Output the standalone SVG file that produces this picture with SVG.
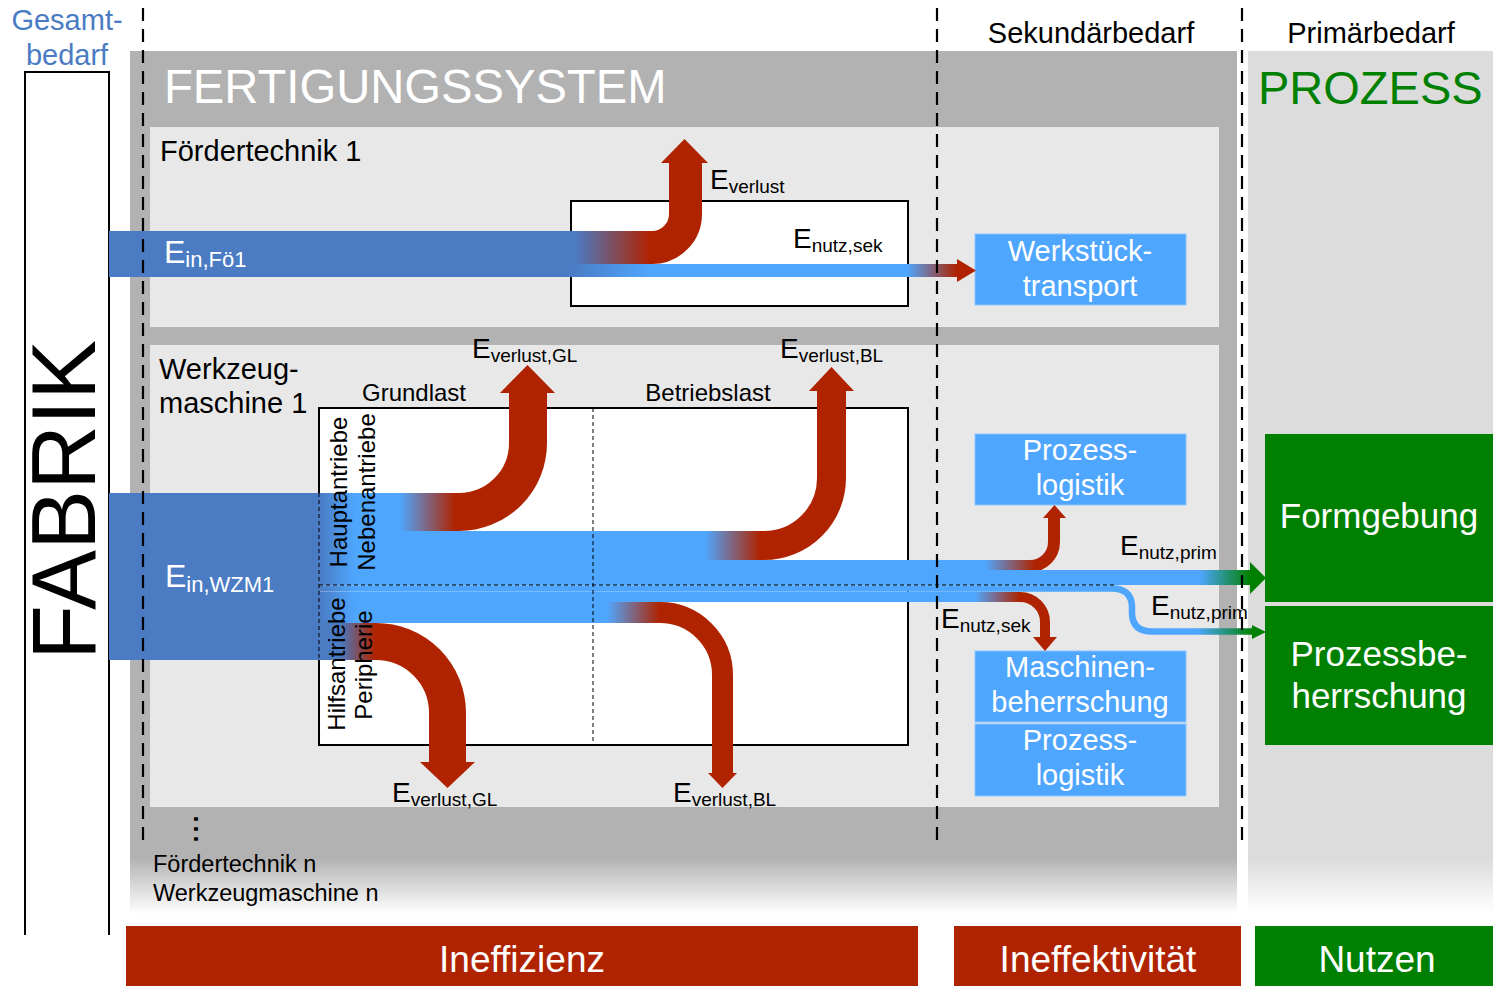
<svg xmlns="http://www.w3.org/2000/svg" width="1493" height="986" viewBox="0 0 1493 986">
<defs>
<style>
text { font-family: "Liberation Sans", Arial, sans-serif; fill: #000; }
.t29 { font-size: 29px; }
.t24 { font-size: 24px; }
.wt { fill: #fff; }
.lbl { font-size: 28px; }
.sub { font-size: 19px; }
.dash { stroke: #000; stroke-width: 2.2; stroke-dasharray: 13 8; fill: none; }
.thin { stroke: #000; stroke-width: 1; stroke-dasharray: 4 3; fill: none; }
.box { fill: #fff; stroke: #000; stroke-width: 2; }
.bl { fill: #4fa6fe; stroke: #8cc6ff; stroke-width: 1; }
.red { fill: #b02300; }
.grn { fill: #008000; }
.flow { fill: none; stroke-linecap: butt; stroke-linejoin: round; }
.bt { font-size: 29px; fill: #fff; text-anchor: middle; }
.gt { font-size: 35px; fill: #fff; text-anchor: middle; }
.bar { font-size: 37px; fill: #fff; text-anchor: middle; }
</style>
<linearGradient id="gPanel" gradientUnits="userSpaceOnUse" x1="0" y1="51" x2="0" y2="914">
<stop offset="0" stop-color="#b2b2b2"/><stop offset="0.935" stop-color="#b2b2b2"/><stop offset="1" stop-color="#ffffff"/>
</linearGradient>
<linearGradient id="gPrim" gradientUnits="userSpaceOnUse" x1="0" y1="51" x2="0" y2="914">
<stop offset="0" stop-color="#dcdcdc"/><stop offset="0.935" stop-color="#dcdcdc"/><stop offset="1" stop-color="#ffffff"/>
</linearGradient>
<linearGradient id="gFoUp" gradientUnits="userSpaceOnUse" x1="575" y1="0" x2="650" y2="0">
<stop offset="0" stop-color="#4a7bc3"/><stop offset="1" stop-color="#b02300"/>
</linearGradient>
<linearGradient id="gFoLine" gradientUnits="userSpaceOnUse" x1="571" y1="0" x2="975" y2="0">
<stop offset="0" stop-color="#4a7bc3"/><stop offset="0.196" stop-color="#4fa6fe"/><stop offset="0.832" stop-color="#4fa6fe"/><stop offset="0.955" stop-color="#b02300"/><stop offset="1" stop-color="#b02300"/>
</linearGradient>
<linearGradient id="gA" gradientUnits="userSpaceOnUse" x1="319" y1="0" x2="455" y2="0">
<stop offset="0" stop-color="#4a7bc3"/><stop offset="0.265" stop-color="#4fa6fe"/><stop offset="0.596" stop-color="#4fa6fe"/><stop offset="1" stop-color="#b02300"/>
</linearGradient>
<linearGradient id="gB" gradientUnits="userSpaceOnUse" x1="319" y1="0" x2="760" y2="0">
<stop offset="0" stop-color="#4a7bc3"/><stop offset="0.082" stop-color="#4fa6fe"/><stop offset="0.875" stop-color="#4fa6fe"/><stop offset="1" stop-color="#b02300"/>
</linearGradient>
<linearGradient id="gC" gradientUnits="userSpaceOnUse" x1="319" y1="0" x2="1035" y2="0">
<stop offset="0" stop-color="#4a7bc3"/><stop offset="0.05" stop-color="#4fa6fe"/><stop offset="0.93" stop-color="#4fa6fe"/><stop offset="1" stop-color="#b02300"/>
</linearGradient>
<linearGradient id="gD" gradientUnits="userSpaceOnUse" x1="319" y1="0" x2="1250" y2="0">
<stop offset="0" stop-color="#4a7bc3"/><stop offset="0.039" stop-color="#4fa6fe"/><stop offset="0.946" stop-color="#4fa6fe"/><stop offset="1" stop-color="#008000"/>
</linearGradient>
<linearGradient id="gE" gradientUnits="userSpaceOnUse" x1="319" y1="0" x2="1253" y2="0">
<stop offset="0" stop-color="#4a7bc3"/><stop offset="0.039" stop-color="#4fa6fe"/><stop offset="0.94" stop-color="#4fa6fe"/><stop offset="1" stop-color="#008000"/>
</linearGradient>
<linearGradient id="gF" gradientUnits="userSpaceOnUse" x1="319" y1="0" x2="1020" y2="0">
<stop offset="0" stop-color="#4a7bc3"/><stop offset="0.051" stop-color="#4fa6fe"/><stop offset="0.936" stop-color="#4fa6fe"/><stop offset="1" stop-color="#b02300"/>
</linearGradient>
<linearGradient id="gG" gradientUnits="userSpaceOnUse" x1="319" y1="0" x2="660" y2="0">
<stop offset="0" stop-color="#4a7bc3"/><stop offset="0.106" stop-color="#4fa6fe"/><stop offset="0.845" stop-color="#4fa6fe"/><stop offset="1" stop-color="#b02300"/>
</linearGradient>
<linearGradient id="gH" gradientUnits="userSpaceOnUse" x1="319" y1="0" x2="375" y2="0">
<stop offset="0" stop-color="#4a7bc3"/><stop offset="0.375" stop-color="#4a7bc3"/><stop offset="1" stop-color="#b02300"/>
</linearGradient>
</defs>

<rect x="0" y="0" width="1493" height="986" fill="#fff"/>

<g id="panels">
<rect x="130" y="51" width="1107" height="864" fill="url(#gPanel)"/>
<rect x="1248" y="51" width="245" height="864" fill="url(#gPrim)"/>
<rect x="150" y="127" width="1069" height="200" fill="#e8e8e8"/>
<rect x="150" y="345" width="1069" height="462" fill="#e8e8e8"/>
<text x="164" y="103" style="font-size:47.2px" class="wt">FERTIGUNGSSYSTEM</text>
<text x="1258" y="104" style="font-size:47px;fill:#008000">PROZESS</text>
<text x="1091" y="43" class="t29" text-anchor="middle">Sekundärbedarf</text>
<text x="1371" y="43" class="t29" text-anchor="middle">Primärbedarf</text>
</g>

<g id="fabrik">
<path d="M25 935 V72 H109 V935" fill="#fff" stroke="#000" stroke-width="2"/>
<text transform="translate(95,500) rotate(-90)" text-anchor="middle" style="font-size:90px">FABRIK</text>
<text x="67" y="30" class="t29" text-anchor="middle" style="fill:#4a7bc3">Gesamt-</text>
<text x="67" y="65" class="t29" text-anchor="middle" style="fill:#4a7bc3">bedarf</text>
</g>

<g id="foerdertechnik1">
<text x="160" y="161" class="t29">Fördertechnik 1</text>
<rect x="571" y="201" width="337" height="105" class="box"/>
</g>

<g id="werkzeugmaschine1">
<text x="159" y="379" class="t29">Werkzeug-</text>
<text x="159" y="413" class="t29">maschine 1</text>
<rect x="319" y="408" width="589" height="337" class="box"/>
<text x="414" y="401" class="t24" text-anchor="middle">Grundlast</text>
<text x="708" y="401" class="t24" text-anchor="middle">Betriebslast</text>
</g>

<g id="werkstuecktransport">
<rect x="975" y="234" width="211" height="71" class="bl"/>
<text x="1080" y="261" class="bt">Werkstück-</text>
<text x="1080" y="296" class="bt">transport</text>
</g>
<g id="prozesslogistik1">
<rect x="975" y="434" width="211" height="71" class="bl"/>
<text x="1080" y="460" class="bt">Prozess-</text>
<text x="1080" y="495" class="bt">logistik</text>
</g>
<g id="maschinenbeherrschung">
<rect x="975" y="651" width="211" height="71" class="bl"/>
<text x="1080" y="677" class="bt">Maschinen-</text>
<text x="1080" y="712" class="bt">beherrschung</text>
</g>
<g id="prozesslogistik2">
<rect x="975" y="724" width="211" height="72" class="bl"/>
<text x="1080" y="750" class="bt">Prozess-</text>
<text x="1080" y="785" class="bt">logistik</text>
</g>
<g id="formgebung">
<rect x="1265" y="434" width="228" height="168" class="grn"/>
<text x="1379" y="528" class="gt">Formgebung</text>
</g>
<g id="prozessbeherrschung">
<rect x="1265" y="606" width="228" height="139" class="grn"/>
<text x="1379" y="666" class="gt">Prozessbe-</text>
<text x="1379" y="708" class="gt">herrschung</text>
</g>

<g id="connectors">
<rect x="109" y="231" width="462" height="46" fill="#4a7bc3"/>
<path class="flow" d="M571 247.5 H652 A33.5 33.5 0 0 0 685.5 214 V162" stroke="url(#gFoUp)" stroke-width="33"/>
<polygon class="red" points="661,163 708,163 684.5,139"/>
<path class="flow" d="M571 270.5 H958" stroke="url(#gFoLine)" stroke-width="13"/>
<polygon class="red" points="957,259 957,282 976,270.5"/>

<rect x="109" y="493" width="210" height="167" fill="#4a7bc3"/>
<path class="flow" d="M319 512 H459 A69 69 0 0 0 528 443 V392" stroke="url(#gA)" stroke-width="38"/>
<polygon class="red" points="500,393 555,393 527.5,365"/>
<path class="flow" d="M319 545.5 H764 A67.5 67.5 0 0 0 831.5 478 V390" stroke="url(#gB)" stroke-width="29"/>
<polygon class="red" points="809,391 854,391 831.5,367"/>
<path class="flow" d="M319 566 H1030 A24 24 0 0 0 1054 542 V517" stroke="url(#gC)" stroke-width="12"/>
<polygon class="red" points="1043,518 1066,518 1054.5,505"/>
<path class="flow" d="M319 577.5 H1251" stroke="url(#gD)" stroke-width="15"/>
<polygon class="grn" points="1250,562 1250,594 1266,578"/>
<path class="flow" d="M319 588.5 H1112 Q1131 588.5 1132 606 V614 Q1133 631.5 1152 631.5 H1253" stroke="url(#gE)" stroke-width="6.5"/>
<polygon class="grn" points="1252,625 1252,639 1266,632"/>
<path class="flow" d="M319 597 H1020 A25 25 0 0 1 1045 622 V638" stroke="url(#gF)" stroke-width="10"/>
<polygon class="red" points="1033,637 1057,637 1045,651"/>
<path class="flow" d="M319 612.5 H660 A62.5 62.5 0 0 1 722.5 675 V774" stroke="url(#gG)" stroke-width="21"/>
<polygon class="red" points="708,773 737,773 722.5,788"/>
<path class="flow" d="M319 641.5 H376 A71.5 71.5 0 0 1 447.5 713 V763" stroke="url(#gH)" stroke-width="37"/>
<polygon class="red" points="420,762 475,762 447.5,788"/>

<line x1="319" y1="585" x2="1117" y2="585" class="thin"/>
<line x1="593" y1="408" x2="593" y2="745" class="thin"/>
<line x1="319" y1="493" x2="319" y2="660" class="thin"/>
</g>

<g id="labels">
<text x="164" y="263" style="font-size:32px" class="wt">E<tspan dy="4" style="font-size:22px">in,Fö1</tspan></text>
<text x="165" y="587" style="font-size:32px" class="wt">E<tspan dy="5" style="font-size:22px">in,WZM1</tspan></text>
<text x="710" y="189" class="lbl">E<tspan dy="4" class="sub">verlust</tspan></text>
<text x="793" y="248" class="lbl">E<tspan dy="4" class="sub">nutz,sek</tspan></text>
<text x="472" y="358" class="lbl">E<tspan dy="4" class="sub">verlust,GL</tspan></text>
<text x="780" y="358" class="lbl">E<tspan dy="4" class="sub">verlust,BL</tspan></text>
<text x="392" y="802" class="lbl">E<tspan dy="4" class="sub">verlust,GL</tspan></text>
<text x="673" y="802" class="lbl">E<tspan dy="4" class="sub">verlust,BL</tspan></text>
<text x="1120" y="555" class="lbl">E<tspan dy="4" class="sub">nutz,prim</tspan></text>
<text x="1151" y="615" class="lbl">E<tspan dy="4" class="sub">nutz,prim</tspan></text>
<text x="941" y="628" class="lbl">E<tspan dy="4" class="sub">nutz,sek</tspan></text>
<text transform="translate(347,492) rotate(-90)" class="t24" text-anchor="middle">Hauptantriebe</text>
<text transform="translate(375,492) rotate(-90)" class="t24" text-anchor="middle">Nebenantriebe</text>
<text transform="translate(345,664) rotate(-90)" class="t24" text-anchor="middle">Hilfsantriebe</text>
<text transform="translate(372,665) rotate(-90)" class="t24" text-anchor="middle">Peripherie</text>
<text transform="translate(194,814) rotate(90)" style="font-size:36px">...</text>
<text x="153" y="872" style="font-size:23.5px">Fördertechnik n</text>
<text x="153" y="901" style="font-size:23.5px">Werkzeugmaschine n</text>
</g>

<g id="dividers">
<line x1="143" y1="8" x2="143" y2="845" class="dash"/>
<line x1="937" y1="8" x2="937" y2="845" class="dash"/>
<line x1="1242" y1="8" x2="1242" y2="848" class="dash"/>
</g>

<g id="ineffizienz">
<rect x="126" y="926" width="792" height="60" class="red"/>
<text x="522" y="972" class="bar">Ineffizienz</text>
</g>
<g id="ineffektivitaet">
<rect x="954" y="926" width="287" height="60" class="red"/>
<text x="1098" y="972" class="bar">Ineffektivität</text>
</g>
<g id="nutzen">
<rect x="1255" y="926" width="238" height="60" class="grn"/>
<text x="1377" y="972" class="bar">Nutzen</text>
</g>
</svg>
